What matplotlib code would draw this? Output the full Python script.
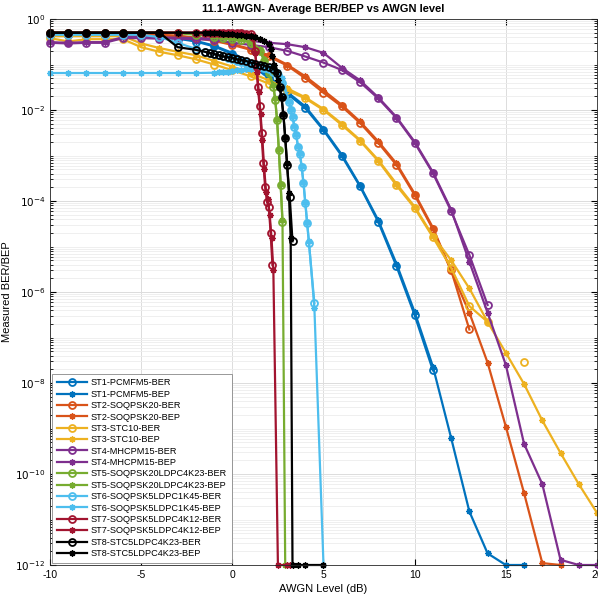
import numpy as np
import matplotlib
matplotlib.use("Agg")
import matplotlib.pyplot as plt
from matplotlib.ticker import LogLocator, NullFormatter, FixedLocator

plt.rcParams['font.family'] = ['Liberation Sans', 'DejaVu Sans']
plt.rcParams['axes.unicode_minus'] = False

# ---- data (AWGN level in dB, measured BER / BEP) ----
st1_ber_x = np.arange(-10, 12)
st1_ber = [0.45, 0.45, 0.45, 0.45, 0.44, 0.42, 0.40, 0.37, 0.32, 0.25, 0.17, 0.10, 0.05, 0.023,
           0.011, 3.6e-3, 9.8e-4, 2.1e-4, 3.5e-5, 3.7e-6, 3.1e-7, 1.9e-8]
st1_bep_x = np.arange(-10, 17)
st1_bep = [0.46, 0.46, 0.46, 0.46, 0.45, 0.43, 0.41, 0.38, 0.33, 0.26, 0.18, 0.11, 0.055, 0.025,
           0.012, 3.8e-3, 1.05e-3, 2.2e-4, 3.8e-5, 4.2e-6, 3.6e-7, 2.3e-8, 6.2e-10, 1.5e-11,
           1.8e-12, 1e-12, 1e-12]

st2_ber_x = np.arange(-10, 14)
st2_ber = [0.45, 0.45, 0.45, 0.45, 0.45, 0.45, 0.44, 0.42, 0.38, 0.33, 0.27, 0.21, 0.15, 0.095,
           0.05, 0.024, 0.012, 5.2e-3, 1.9e-3, 6.2e-4, 1.35e-4, 2.4e-5, 3.0e-6, 1.5e-7]
st2_bep_x = np.arange(-10, 19)
st2_bep = [0.46, 0.46, 0.46, 0.46, 0.46, 0.46, 0.45, 0.43, 0.39, 0.34, 0.28, 0.22, 0.16, 0.10,
           0.055, 0.027, 0.013, 5.6e-3, 2.05e-3, 6.7e-4, 1.45e-4, 2.6e-5, 2.9e-6, 3.5e-7, 2.8e-8,
           1.1e-9, 3.8e-11, 1.1e-12, 1e-12]

st3_ber_x = np.arange(-10, 17)
st3_ber = [0.38, 0.32, 0.36, 0.36, 0.36, 0.24, 0.19, 0.16, 0.13, 0.10, 0.075, 0.055, 0.038, 0.027,
           0.018, 0.010, 4.7e-3, 2.1e-3, 7.6e-4, 2.2e-4, 7e-5, 1.6e-5, 3.4e-6, 4.9e-7, 2.2e-7,
           np.nan, 2.9e-8]
st3_bep_x = np.arange(-10, 21)
st3_bep = [0.42, 0.42, 0.42, 0.42, 0.42, 0.29, 0.23, 0.19, 0.16, 0.12, 0.09, 0.065, 0.045, 0.03,
           0.019, 0.0105, 5e-3, 2.2e-3, 8e-4, 2.4e-4, 7.5e-5, 1.7e-5, 5e-6, 1.2e-6, 2.2e-7,
           4.6e-8, 9.5e-9, 1.5e-9, 2.9e-10, 6e-11, 1.4e-11]

st4_ber_x = np.arange(-10, 15)
st4_ber = [0.30, 0.29, 0.30, 0.30, 0.38, 0.38, 0.37, 0.37, 0.36, 0.35, 0.30, 0.27, 0.24, 0.20,
           0.15, 0.11, 0.076, 0.041, 0.018, 6.7e-3, 1.9e-3, 4.1e-4, 6e-5, 6.5e-6, 5.2e-7]
st4_bep_x = np.arange(-10, 21)
st4_bep = [0.31, 0.30, 0.31, 0.31, 0.40, 0.40, 0.39, 0.39, 0.38, 0.37, 0.36, 0.33, 0.30, 0.28,
           0.24, 0.18, 0.085, 0.045, 0.019, 7e-3, 2e-3, 4.3e-4, 6.5e-5, 4.6e-6, 3.5e-7, 2.5e-8,
           4.6e-10, 6e-11, 1.3e-12, 1e-12, 1e-12]

st5_ber_x = [-10, -9, -8, -7, -6, -5, -4, -3, -2, -1, -0.5, 0, 0.5, 1, 1.5, 1.75, 2.0,
             2.25, 2.35, 2.45, 2.55, 2.65, 2.75]
st5_ber = [0.5, 0.5, 0.5, 0.5, 0.5, 0.5, 0.5, 0.49, 0.45, 0.41, 0.38, 0.36, 0.34, 0.30, 0.20,
           0.12, 0.065, 0.032, 0.0166, 6e-3, 1.3e-3, 2.2e-4, 3.5e-5]
st5_bep_x = [-10, -9, -8, -7, -6, -5, -4, -3, -2, -1, -0.5, 0, 0.5, 1, 1.5, 1.75, 2.0,
             2.25, 2.35, 2.45, 2.55, 2.65, 2.75, 2.9]
st5_bep = [0.5, 0.5, 0.5, 0.5, 0.5, 0.5, 0.5, 0.5, 0.47, 0.43, 0.40, 0.38, 0.36, 0.32, 0.22,
           0.13, 0.07, 0.035, 0.018, 6.5e-3, 1.4e-3, 2.4e-4, 3.8e-5, 1e-12]

st6_ber_x = [-10, -9, -8, -7, -6, -5, -4, -3, -2,
             -1.5, -1.25, -1, -0.75, -0.5, -0.25, 0, 0.25, 0.5, 0.75, 1, 1.25, 1.5, 1.75,
             2, 2.25, 2.5, 2.75,
             3.1, 3.2, 3.3, 3.4, 3.5, 3.6, 3.7, 3.8, 3.9, 4.0, 4.1, 4.2, 4.5]
st6_ber = [0.45, 0.45, 0.45, 0.45, 0.45, 0.45, 0.40, 0.30, 0.22,
           0.19, 0.18, 0.17, 0.16, 0.15, 0.14, 0.13, 0.12, 0.115, 0.11, 0.10, 0.095, 0.09,
           0.085, 0.078, 0.07, 0.058, 0.04,
           0.0151, 0.010, 7.1e-3, 4.3e-3, 2.8e-3, 1.55e-3, 1.1e-3, 5.6e-4, 2.5e-4, 9.1e-5,
           3.3e-5, 1.2e-5, 5.7e-7]
st6_bep_x = [-10, -9, -8, -7, -6, -5, -4, -3, -2, -1,
             -0.75, -0.5, -0.25, 0, 0.25, 0.5, 0.75, 1, 1.25, 1.5, 1.75, 2, 2.25, 2.5, 2.75,
             3.1, 3.2, 3.3, 3.4, 3.5, 3.6, 3.7, 3.8, 3.9, 4.0, 4.1, 4.2, 4.5, 5.0]
st6_bep = [0.065, 0.065, 0.065, 0.065, 0.065, 0.065, 0.065, 0.065, 0.065, 0.066,
           0.067, 0.068, 0.07, 0.072, 0.074, 0.076, 0.078, 0.08, 0.082, 0.083, 0.082, 0.08,
           0.075, 0.068, 0.05,
           0.016, 0.0105, 7.4e-3, 4.5e-3, 2.9e-3, 1.6e-3, 1.15e-3, 5.9e-4, 2.6e-4, 9.6e-5,
           3.5e-5, 1.3e-5, 4.5e-7, 1e-12]

st7_ber_x = [-10, -9, -8, -7, -6, -5, -4, -3, -2,
             -1.5, -1.25, -1, -0.75, -0.5, -0.25, 0, 0.25, 0.5, 0.75, 1.0,
             1.15, 1.25, 1.33, 1.4, 1.5, 1.6, 1.7, 1.8, 1.9, 2.0, 2.1, 2.2]
st7_ber = [0.5, 0.5, 0.5, 0.5, 0.5, 0.5, 0.5, 0.5, 0.5,
           0.5, 0.5, 0.5, 0.5, 0.5, 0.5, 0.5, 0.5, 0.49, 0.48, 0.46,
           0.40, 0.20, 0.09, 0.032, 0.012, 3.1e-3, 6.9e-4, 2e-4, 9.5e-5, 7.4e-5, 2e-5, 3.9e-6]
st7_bep_x = [-10, -9, -8, -7, -6, -5, -4, -3, -2,
             -1.5, -1.25, -1, -0.75, -0.5, -0.25, 0, 0.25, 0.5, 0.75, 1.0,
             1.15, 1.25, 1.35, 1.45, 1.55, 1.65, 1.75, 1.85, 1.95, 2.05, 2.15, 2.25,
             2.5, 3.0, 3.15]
st7_bep = [0.5, 0.5, 0.5, 0.5, 0.5, 0.5, 0.5, 0.5, 0.5,
           0.5, 0.5, 0.5, 0.5, 0.5, 0.5, 0.5, 0.5, 0.49, 0.48, 0.45,
           0.38, 0.18, 0.07, 0.025, 8e-3, 2.2e-3, 5e-4, 1.6e-4, 1.1e-4, 5e-5, 1.5e-5, 3e-6,
           1e-12, 1e-12, 1e-12]

st8_ber_x = [-10, -9, -8, -7, -6, -5, -4, -3, -2,
             -1.5, -1.25, -1, -0.75, -0.5, -0.25, 0, 0.25, 0.5, 0.75, 1, 1.25, 1.5, 1.75,
             2, 2.25,
             2.45, 2.6, 2.7, 2.8, 2.9, 3.0, 3.15, 3.3]
st8_ber = [0.5, 0.5, 0.5, 0.5, 0.5, 0.5, 0.5, 0.24, 0.21,
           0.19, 0.18, 0.17, 0.16, 0.15, 0.145, 0.14, 0.13, 0.125, 0.12, 0.11, 0.105, 0.10,
           0.095, 0.09, 0.08,
           0.065, 0.032, 0.019, 7.8e-3, 2.4e-3, 6.2e-4, 1.2e-4, 1.3e-5]
st8_bep_x = [-10, -9, -8, -7, -6, -5, -4, -3, -2,
             -1.5, -1.25, -1, -0.75, -0.5, -0.25, 0, 0.25, 0.5, 0.75, 1, 1.25, 1.5, 1.75, 2.0,
             2.1, 2.2, 2.3, 2.4, 2.5, 2.6, 2.7, 2.8, 2.9, 3.0, 3.1, 3.2,
             3.3, 3.6, 4.0, 5.0]
st8_bep = [0.5, 0.5, 0.5, 0.5, 0.5, 0.5, 0.5, 0.5, 0.5,
           0.5, 0.5, 0.49, 0.49, 0.48, 0.47, 0.46, 0.45, 0.44, 0.43, 0.42, 0.40, 0.37, 0.33, 0.28,
           0.22, 0.15, 0.10, 0.07, 0.045, 0.03, 0.018, 8e-3, 2.6e-3, 7e-4, 1.5e-4, 1.5e-5,
           1e-12, 1e-12, 1e-12, 1e-12]

names = ["ST1-PCMFM5", "ST2-SOQPSK20", "ST3-STC10", "ST4-MHCPM15",
         "ST5-SOQPSK20LDPC4K23", "ST6-SOQPSK5LDPC1K45", "ST7-SOQPSK5LDPC4K12",
         "ST8-STC5LDPC4K23"]
colors = ["#0072bd", "#d95319", "#edb120", "#7e2f8e",
          "#77ac30", "#4dbeee", "#a2142f", "#000000"]
series = [
    (st1_ber_x, st1_ber, st1_bep_x, st1_bep),
    (st2_ber_x, st2_ber, st2_bep_x, st2_bep),
    (st3_ber_x, st3_ber, st3_bep_x, st3_bep),
    (st4_ber_x, st4_ber, st4_bep_x, st4_bep),
    (st5_ber_x, st5_ber, st5_bep_x, st5_bep),
    (st6_ber_x, st6_ber, st6_bep_x, st6_bep),
    (st7_ber_x, st7_ber, st7_bep_x, st7_bep),
    (st8_ber_x, st8_ber, st8_bep_x, st8_bep),
]

fig = plt.figure(figsize=(5.98, 5.97), dpi=100)
ax = fig.add_axes([50 / 598, 32 / 597, 547 / 598, 546 / 597])

for name, c, (bx, by, px, py) in zip(names, colors, series):
    ax.semilogy(bx, by, '-', color=c, lw=1.6, marker='o', ms=5, mfc='none', mew=1.3,
                label=name + "-BER", clip_on=False)
    ax.semilogy(px, py, '-', color=c, lw=1.6, marker=(8, 2, 0), ms=4.5, mew=1.0,
                label=name + "-BEP", clip_on=False)

ax.set_xlim(-10, 20)
ax.set_ylim(1e-12, 1)
ax.xaxis.set_major_locator(FixedLocator([-10, -5, 0, 5, 10, 15, 20]))
ax.yaxis.set_major_locator(FixedLocator([10.0 ** k for k in range(-12, 1, 2)]))
ax.yaxis.set_minor_locator(LogLocator(base=10, subs=np.arange(1, 10), numticks=100))
ax.yaxis.set_minor_formatter(NullFormatter())
ax.set_yticklabels([r"$10^{%d}$" % k for k in range(-12, 1, 2)])

ax.grid(True, which='major', color='#dcdcdc', lw=0.7)
ax.grid(True, which='minor', axis='y', color='#ededed', lw=0.6)
ax.set_axisbelow(True)
ax.tick_params(which='both', direction='in', top=True, right=True, labelsize=7.5)
ax.tick_params(which='major', length=4)
ax.tick_params(which='minor', length=2)
for s in ax.spines.values():
    s.set_color('#262626')
    s.set_linewidth(0.6)

ax.set_title("11.1-AWGN- Average BER/BEP vs AWGN level", fontsize=8, fontweight='bold', pad=5)
ax.set_xlabel("AWGN Level (dB)", fontsize=8, labelpad=3)
ax.set_ylabel("Measured BER/BEP", fontsize=8, labelpad=2)

leg = ax.legend(loc='lower left', fontsize=6.6, handlelength=3.3, labelspacing=0.26,
                borderaxespad=0.25, framealpha=1, fancybox=False, edgecolor='#888888',
                borderpad=0.5, handletextpad=0.4)
leg.get_frame().set_linewidth(0.6)

fig.savefig("out.png", dpi=100)
